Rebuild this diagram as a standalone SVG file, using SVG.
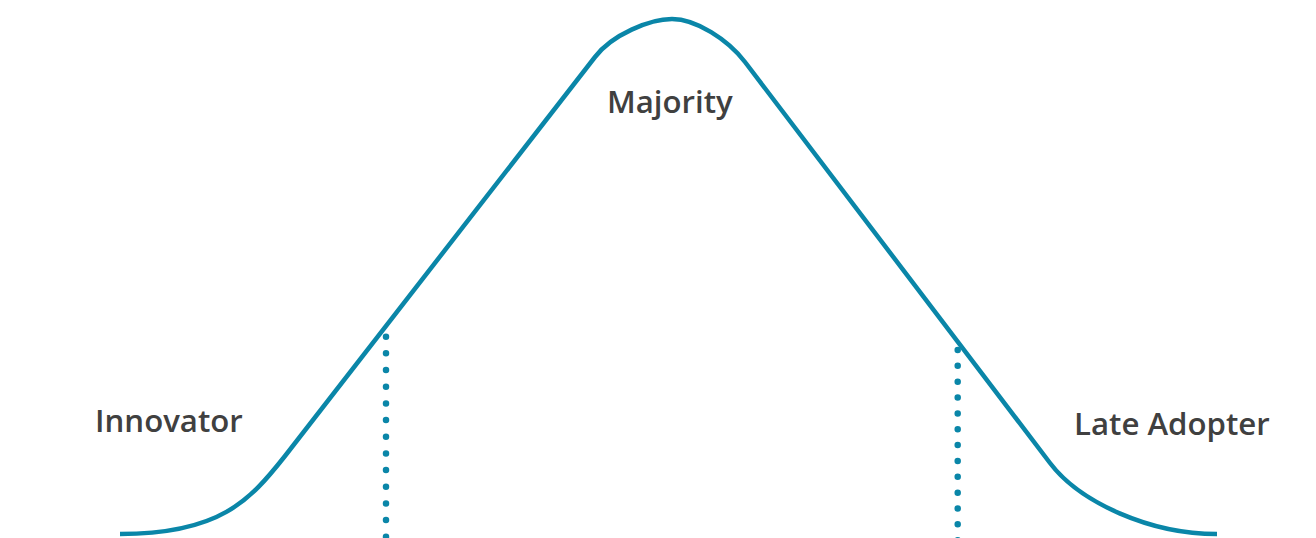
<svg xmlns="http://www.w3.org/2000/svg" width="1316" height="538" viewBox="0 0 1316 538">
  <style>
    .curve { fill: none; stroke: #0a86a8; stroke-width: 4.5; stroke-linejoin: round; }
    .dots { fill: none; stroke: #0a86a8; stroke-width: 6.5; stroke-linecap: round; }
    .label { font-family: "Open Sans", "Liberation Sans", sans-serif; font-weight: 600; font-size: 31.2px; fill: #404040; }
  </style>
  <rect width="1316" height="538" fill="#ffffff"/>
  <g id="connectors">
    <path id="bell-curve" class="curve" d="M120,534 C220,534 250,500.3 285,456 L595,57 C612,34.6 650,19 672,19 C696,19 728,39.6 745,62 L1050,463 C1080,502.5 1150,534 1217,534"/>
    <path id="divider-left" class="dots" d="M386,336.7 L386,548" stroke-dasharray="0 16.67"/>
    <path id="divider-right" class="dots" d="M957.7,350 L957.7,548" stroke-dasharray="0 15.85"/>
  </g>
  <g id="innovator"><text class="label" x="95" y="432">Innovator</text></g>
  <g id="majority"><text class="label" x="607" y="113">Majority</text></g>
  <g id="late-adopter"><text class="label" x="1074" y="435">Late Adopter</text></g>
</svg>
